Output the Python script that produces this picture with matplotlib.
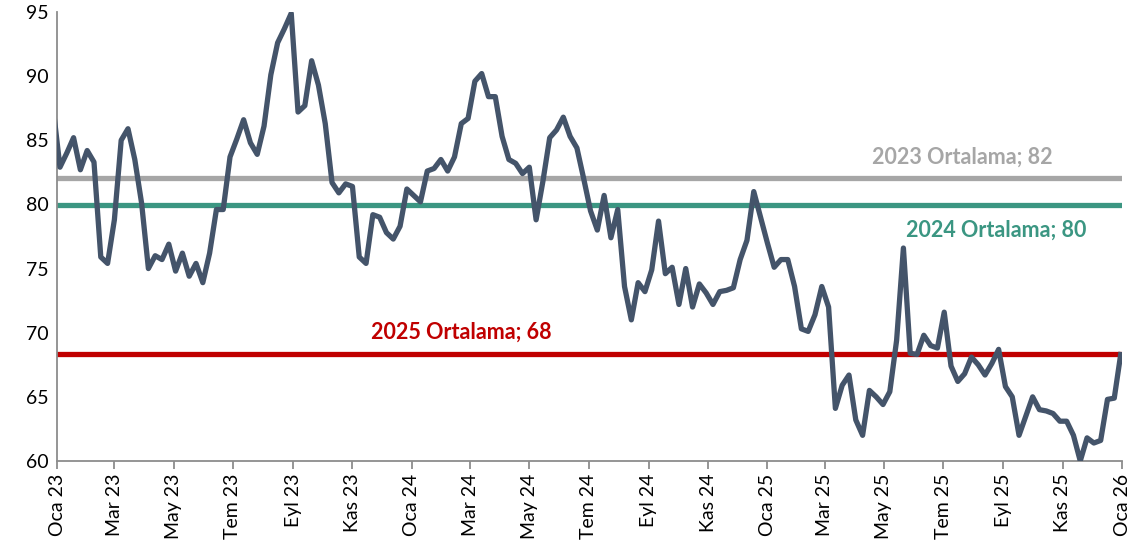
import numpy as np
import pandas as pd
import matplotlib
matplotlib.use("Agg")
from matplotlib import pyplot as plt
from matplotlib import transforms

plt.rcParams['font.family'] = ['Lato', 'DejaVu Sans']

# weekly index values (first point lies just before the axis start)
dates = pd.date_range('2022-12-28', periods=158, freq='7D')
values = [
    87.5,
    82.9, 84.0, 85.2, 82.7, 84.2, 83.3, 75.9, 75.4, 78.8, 85.0,
    85.9, 83.5, 80.1, 75.0, 76.0, 75.7, 76.9, 74.8, 76.2, 74.4,
    75.4, 73.9, 76.2, 79.6, 79.6, 83.7, 85.1, 86.6, 84.8, 83.9,
    86.1, 90.1, 92.6, 93.7, 94.9, 87.2, 87.7, 91.2, 89.3, 86.3,
    81.7, 80.9, 81.6, 81.4, 75.9, 75.4, 79.2, 79.0, 77.8, 77.3,
    78.3, 81.2, 80.7, 80.2, 82.6, 82.8, 83.5, 82.6, 83.7, 86.3,
    86.7, 89.6, 90.2, 88.4, 88.4, 85.3, 83.5, 83.2, 82.4, 82.9,
    78.8, 81.8, 85.2, 85.8, 86.8, 85.3, 84.4, 82.0, 79.5, 78.0,
    80.7, 77.4, 79.6, 73.6, 71.0, 73.9, 73.2, 74.9, 78.7, 74.6,
    75.1, 72.2, 75.0, 72.0, 73.8, 73.1, 72.2, 73.2, 73.3, 73.5,
    75.7, 77.2, 81.0, 79.0, 77.0, 75.1, 75.7, 75.7, 73.6, 70.3,
    70.1, 71.4, 73.6, 72.0, 64.1, 65.9, 66.7, 63.2, 62.0, 65.5,
    65.0, 64.4, 65.4, 69.4, 76.6, 68.4, 68.3, 69.8, 69.0, 68.8,
    71.6, 67.4, 66.2, 66.8, 68.1, 67.5, 66.7, 67.6, 68.7, 65.8,
    65.0, 62.0, 63.5, 65.0, 64.0, 63.9, 63.7, 63.1, 63.1, 62.0,
    60.0, 61.8, 61.4, 61.6, 64.8, 64.9, 68.5,
]

avg_labels = ['2023 Ortalama; 82', '2024 Ortalama; 80', '2025 Ortalama; 68']
avg_values = [82.05, 79.95, 68.3]
avg_colors = ['#A6A6A6', '#3B9682', '#C00000']

months_tr = ['Oca', 'Şub', 'Mar', 'Nis', 'May', 'Haz',
             'Tem', 'Ağu', 'Eyl', 'Eki', 'Kas', 'Ara']
tick_dates = pd.date_range('2023-01-01', '2026-01-01', freq='2MS')
tick_labels = ["%s %02d" % (months_tr[d.month - 1], d.year % 100) for d in tick_dates]

fig = plt.figure(figsize=(11.32, 5.57), dpi=100)
ax = fig.add_axes([0.0504, 0.1724, 0.9408, 0.8061])

for v, c in zip(avg_values, avg_colors):
    ax.axhline(v, color=c, lw=3.8, solid_capstyle='round', zorder=2)

ax.plot(dates, values, color='#44546A', lw=3.8, solid_joinstyle='round',
        solid_capstyle='butt', zorder=3)

# label positions: x in axes fraction, y in data units
trans = transforms.blended_transform_factory(ax.transAxes, ax.transData)
label_pos = [(0.850, 83.7), (0.882, 78.0), (0.380, 70.0)]
for (lx, ly), txt, c in zip(label_pos, avg_labels, avg_colors):
    ax.text(lx, ly, txt, color=c, fontsize=15.5, fontweight='bold',
            ha='center', va='center', transform=trans)

ax.set_xlim(pd.Timestamp('2023-01-01'), pd.Timestamp('2026-01-01'))
ax.set_ylim(60, 95)
ax.set_yticks(np.arange(60, 96, 5))
ax.set_xticks(tick_dates)
ax.set_xticklabels(tick_labels, rotation=90)

for s in ['top', 'right']:
    ax.spines[s].set_visible(False)
for s in ['left', 'bottom']:
    ax.spines[s].set_color('#8C8C8C')
    ax.spines[s].set_linewidth(1.3)
ax.tick_params(axis='x', length=6, width=1.3, color='#8C8C8C', labelsize=14, pad=3)
ax.tick_params(axis='y', length=0, labelsize=14, pad=6)

fig.savefig('out.png', dpi=100)
